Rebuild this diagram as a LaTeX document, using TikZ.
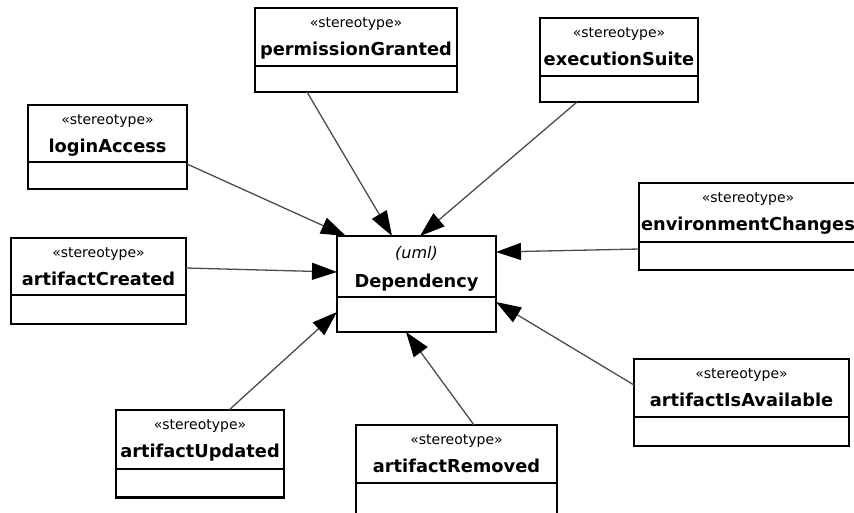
\documentclass[tikz,border=0pt]{standalone}
\usepackage{fontspec}
\setmainfont{DejaVu Sans}
\usetikzlibrary{arrows.meta}

% A stereotype class box: name, x, y, width, height, divider offset, stereotype, title
\newcommand\umlclass[8]{%
  \node[classbox, minimum width=#4pt, minimum height=#5pt] (#1) at (#2,#3) {};
  \draw[boxline] ([yshift=-#6pt]#1.north west) -- ([yshift=-#6pt]#1.north east);
  \node[stereo] (#1-st) at ([yshift=-19pt]#1.north) {#7};
  \node[cname] (#1-nm) at ([yshift=-47pt]#1.north) {#8};
}

\begin{document}
\begin{tikzpicture}[x=1pt, y=-1pt,
  boxline/.style={draw=black, line width=1.3pt},
  classbox/.style={boxline, fill=white, anchor=north west, inner sep=0pt, outer sep=0pt},
  stereo/.style={anchor=base, inner sep=0pt, font=\fontsize{14}{16}\selectfont},
  cname/.style={anchor=base, inner sep=0pt, font=\fontsize{17.8}{20}\selectfont\bfseries},
  depend/.style={draw=black!70, line width=1.3pt, -{Triangle[length=25pt,width=17pt,color=black]}}
]
\clip (0,0) rectangle (854,512);
\fill[white] (0,0) rectangle (854,512);

% the central metaclass
\node[classbox, minimum width=159pt, minimum height=96pt] (dep) at (337,236) {};
\draw[boxline] ([yshift=-61pt]dep.north west) -- ([yshift=-61pt]dep.north east);
\node[anchor=base, inner sep=0pt, font=\fontsize{16}{18}\selectfont\itshape] (dep-st)
  at ([yshift=-22pt]dep.north) {(uml)};
\node[cname] (dep-nm) at ([yshift=-51pt]dep.north) {Dependency};

% the stereotypes around it
\umlclass{perm}{255}{8}{202}{84}{58}{«stereotype»}{permissionGranted}
\umlclass{exec}{540}{18}{158}{84}{58}{«stereotype»}{executionSuite}
\umlclass{login}{28}{105}{159}{84}{57}{«stereotype»}{loginAccess}
\umlclass{created}{11}{238}{175}{86}{57}{«stereotype»}{artifactCreated}
\umlclass{env}{639}{183}{218}{87}{59}{«stereotype»}{environmentChanges}
\umlclass{avail}{634}{359}{215}{87}{58}{«stereotype»}{artifactIsAvailable}
\umlclass{updated}{116}{410}{168}{88}{59}{«stereotype»}{artifactUpdated}
\umlclass{removed}{356}{425}{201}{100}{58}{«stereotype»}{artifactRemoved}
\draw[line width=3pt] ([yshift=1pt]updated.south west) -- ([yshift=1pt]updated.south east);

% extension arrows into Dependency
\draw[depend] ([yshift=-59pt]login.north east) -- ([xshift=9pt]dep.north west);
\draw[depend] ([xshift=52pt]perm.south west) -- ([xshift=55pt]dep.north west);
\draw[depend] ([xshift=37pt]exec.south west) -- ([xshift=83pt]dep.north west);
\draw[depend] ([yshift=-30pt]created.north east) -- ([yshift=-36pt]dep.north west);
\draw[depend] ([yshift=-66pt]env.north west) -- ([yshift=-16pt]dep.north east);
\draw[depend] ([yshift=-26pt]avail.north west) -- ([yshift=-66pt]dep.north east);
\draw[depend] ([xshift=118pt]removed.north west) -- ([xshift=69pt]dep.south west);
\draw[depend] ([xshift=113pt]updated.north west) -- ([yshift=-76pt]dep.north west);
\end{tikzpicture}
\end{document}
